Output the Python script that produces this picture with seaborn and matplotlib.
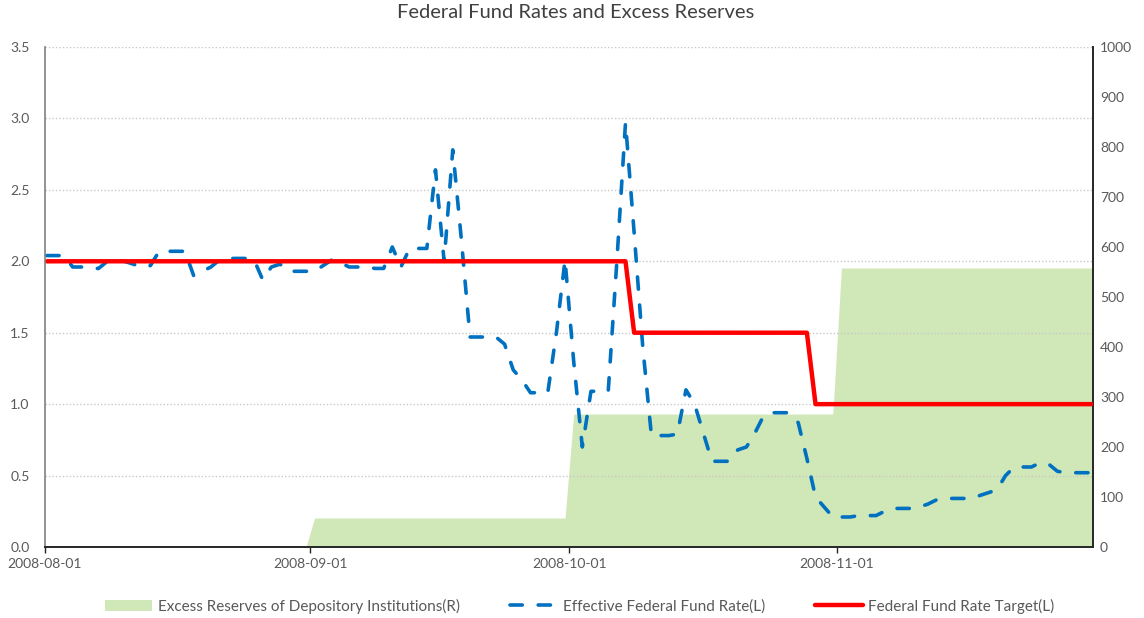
import numpy as np
import pandas as pd
import matplotlib
matplotlib.use("Agg")
import matplotlib.pyplot as plt
from matplotlib.patches import Patch
from matplotlib.lines import Line2D
import seaborn as sns

# ---------------- data ----------------
start_date = "2008-08-01"
end_date = "2008-11-30"

# Effective Federal Fund Rate (daily, weekends carried forward), left axis
effr = [
    2.04, 2.04, 2.04, 1.96, 1.96, 1.95, 1.95, 2.00, 2.00, 2.00,
    1.98, 1.96, 1.97, 2.07, 2.07, 2.07, 2.07, 1.90, 1.93, 1.96,
    2.01, 2.02, 2.02, 2.02, 2.01, 1.87, 1.96, 1.98, 1.93, 1.93,
    1.93, 1.93, 1.97, 2.01, 1.99, 1.96, 1.96, 1.96, 1.95, 1.95,
    2.10, 1.96, 2.09, 2.09, 2.09, 2.64, 2.00, 2.78, 2.15, 1.47,
    1.47, 1.47, 1.47, 1.42, 1.24, 1.17, 1.08, 1.08, 1.08, 1.50,
    2.01, 1.30, 0.70, 1.09, 1.09, 1.09, 2.00, 2.97, 2.20, 1.40,
    0.78, 0.78, 0.78, 0.79, 1.10, 1.00, 0.80, 0.60, 0.60, 0.60,
    0.68, 0.70, 0.80, 0.92, 0.94, 0.94, 0.94, 0.87, 0.62, 0.35,
    0.28, 0.21, 0.21, 0.21, 0.22, 0.22, 0.22, 0.25, 0.27, 0.27,
    0.27, 0.28, 0.30, 0.33, 0.34, 0.34, 0.34, 0.34, 0.36, 0.38,
    0.40, 0.50, 0.56, 0.56, 0.56, 0.59, 0.58, 0.53, 0.52, 0.52,
    0.52, 0.52,
]

# Federal Fund Rate Target (changes on these dates), left axis
target_change_dates = ["2008-08-01", "2008-10-08", "2008-10-29"]
target_values = [2.0, 1.5, 1.0]

# Excess Reserves of Depository Institutions (monthly), right axis
reserve_months = ["2008-08-01", "2008-09-01", "2008-10-01", "2008-11-01"]
reserve_values = [0, 58, 266, 558]

tick_dates = ["2008-08-01", "2008-09-01", "2008-10-01", "2008-11-01"]

# ---------------- build frame ----------------
dates = pd.date_range(start_date, end_date, freq="D")
target = (pd.Series(target_values, index=pd.to_datetime(target_change_dates))
          .reindex(dates, method="ffill"))
reserves = (pd.Series(reserve_values, index=pd.to_datetime(reserve_months))
            .reindex(dates, method="ffill"))
df = pd.DataFrame({"date": dates, "effr": effr,
                   "target": target.values, "reserves": reserves.values})

# ---------------- style ----------------
sns.set_theme(style="white")
plt.rcParams["font.family"] = ["Lato", "DejaVu Sans"]
text_col = "#595959"

fig = plt.figure(figsize=(11.44, 6.18), dpi=100)
ax = fig.add_axes([45 / 1144, 1 - 547 / 618, (1093 - 45) / 1144, 500 / 618])
ax2 = ax.twinx()

green = "#d0e8b8"
blue = "#0070c0"
red = "#ff0000"

# area on the right axis (behind)
ax2.fill_between(df["date"], 0, df["reserves"], color=green, linewidth=0)

# lines on the left axis
sns.lineplot(data=df, x="date", y="effr", ax=ax, color=blue, linewidth=2.6)
effr_line = ax.lines[-1]
effr_line.set_dashes((3.4, 4.4))
effr_line.set_dash_capstyle("round")
sns.lineplot(data=df, x="date", y="target", ax=ax, color=red, linewidth=3.2)

ax.set_zorder(ax2.get_zorder() + 1)
ax.patch.set_visible(False)

# axes ranges
x_left = pd.Timestamp(start_date) - pd.Timedelta(hours=5)
x_right = pd.Timestamp(end_date) + pd.Timedelta(hours=3)
ax.set_xlim(x_left, x_right)
ax.set_ylim(0, 3.5)
ax2.set_ylim(0, 1000)

ax.set_yticks(np.arange(0, 3.51, 0.5))
ax.set_yticklabels([f"{v:.1f}" for v in np.arange(0, 3.51, 0.5)])
ax2.set_yticks(np.arange(0, 1001, 100))
ax2.set_yticklabels([f"{int(v)}" for v in np.arange(0, 1001, 100)])

tick_pos = [max(pd.Timestamp(d) - pd.Timedelta(hours=12), x_left) for d in tick_dates]
ax.set_xticks(tick_pos)
ax.set_xticklabels(tick_dates)

ax.set_xlabel("")
ax.set_ylabel("")
ax2.set_ylabel("")

ax.grid(axis="y", color="#c8c8c8", linestyle=(0, (1, 1.5)), linewidth=1.0)
ax.grid(axis="x", visible=False)
ax2.grid(False)

for a in (ax, ax2):
    for s in a.spines.values():
        s.set_visible(False)
ax.spines["left"].set_visible(True)
ax.spines["left"].set_color("#7f7f7f")
ax.spines["left"].set_linewidth(1.2)
ax.spines["bottom"].set_visible(True)
ax.spines["bottom"].set_color("#262626")
ax.spines["bottom"].set_linewidth(1.4)
ax2.spines["right"].set_visible(True)
ax2.spines["right"].set_color("#262626")
ax2.spines["right"].set_linewidth(1.4)

ax.tick_params(axis="x", direction="out", length=4, width=1.0, color="#262626",
               labelsize=10, labelcolor=text_col, pad=4, bottom=True)
ax.tick_params(axis="y", length=0, labelsize=10, labelcolor=text_col, pad=11)
ax2.tick_params(axis="y", length=0, labelsize=10, labelcolor=text_col, pad=5)

fig.text(576 / 1144, 1 - 13 / 618, "Federal Fund Rates and Excess Reserves",
         ha="center", va="center", fontsize=14.5, color="#404040")

handles = [
    Patch(facecolor=green, edgecolor="none"),
    Line2D([0], [0], color=blue, linewidth=2.6, dashes=(3.4, 4.4),
           dash_capstyle="round"),
    Line2D([0], [0], color=red, linewidth=3.2),
]
labels = ["Excess Reserves of Depository Institutions(R)",
          "Effective Federal Fund Rate(L)",
          "Federal Fund Rate Target(L)"]
leg = fig.legend(handles, labels, loc="center", bbox_to_anchor=(0.5066, 1 - 606 / 618),
                 ncol=3, frameon=False, fontsize=11, handlelength=3.1,
                 handletextpad=0.35, columnspacing=3.3)
for t in leg.get_texts():
    t.set_color(text_col)

fig.savefig("out.png", dpi=100)
